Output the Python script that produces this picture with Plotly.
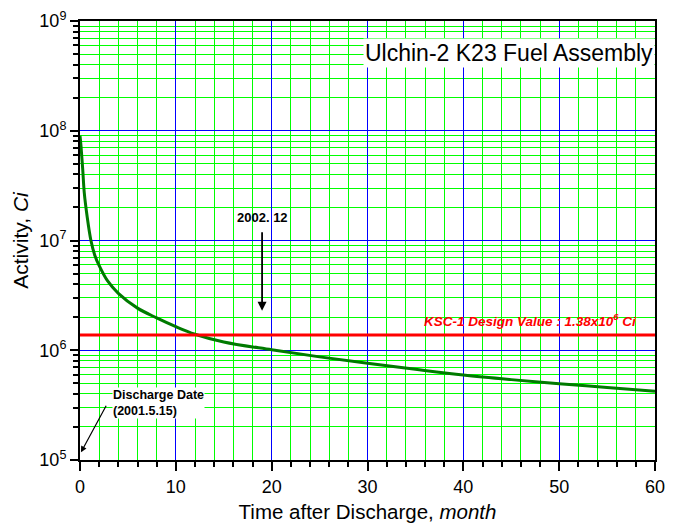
import plotly.graph_objects as go

months = [0, 0.1, 0.28, 0.45, 0.73, 1.14, 1.55, 2.0, 2.86, 4, 6, 8, 10, 12, 15, 20, 25, 30, 35, 40, 45, 50, 55, 60]
activity = [9.0e7, 7.3e7, 4.5e7, 2.7e7, 1.69e7, 1.0e7, 7.3e6, 5.9e6, 4.3e6, 3.3e6, 2.42e6, 1.97e6, 1.64e6, 1.40e6,
            1.19e6, 1.01e6, 8.7e5, 7.6e5, 6.7e5, 5.95e5, 5.4e5, 4.95e5, 4.58e5, 4.22e5]
design_value = 1.38e6
x_range = [0, 60]
y_decades = [5, 9]
decade_vals = [10 ** d for d in range(y_decades[0], y_decades[1] + 1)]
decade_text = ["10<sup>%d</sup>" % d for d in range(y_decades[0], y_decades[1] + 1)]
y_minor_vals = [m * 10 ** d for d in range(y_decades[0], y_decades[1]) for m in range(2, 10)]

fig = go.Figure()
fig.add_trace(go.Scatter(x=months, y=activity, mode="lines", line=dict(color="#007a00", width=3, shape="spline", smoothing=1.0),
                         showlegend=False, hoverinfo="skip"))
fig.add_trace(go.Scatter(x=x_range, y=[design_value, design_value], mode="lines",
                         line=dict(color="#ff0000", width=3), showlegend=False, hoverinfo="skip"))

font = "Liberation Sans, Arial, sans-serif"
fig.update_layout(
    width=674, height=529,
    margin=dict(l=80, r=9, t=18, b=66),
    paper_bgcolor="white", plot_bgcolor="white",
    font=dict(family=font, color="black"),
    xaxis=dict(range=x_range, dtick=10, showgrid=True, gridcolor="#0000ff", gridwidth=1,
               zeroline=False, showline=True, linecolor="black", linewidth=2, mirror=True,
               ticks="outside", ticklen=9, tickwidth=2, tickcolor="black",
               tickfont=dict(size=18, family=font),
               minor=dict(dtick=2, showgrid=True, gridcolor="#00ff00", gridwidth=1, ticks="outside", ticklen=5,
                          tickwidth=1.5, tickcolor="black"),
               title=dict(text="Time after Discharge, <i>month</i>", font=dict(size=20.5, family=font), standoff=9)),
    yaxis=dict(type="log", range=y_decades, tickmode="array", tickvals=decade_vals, ticktext=decade_text,
               showgrid=True, gridcolor="#0000ff", gridwidth=1,
               zeroline=False, showline=True, linecolor="black", linewidth=2, mirror=True,
               ticks="outside", ticklen=8, tickwidth=2, tickcolor="black",
               tickfont=dict(size=18, family=font),
               minor=dict(tickmode="array", tickvals=y_minor_vals, showgrid=True, gridcolor="#00ff00", gridwidth=1,
                          ticks="outside", ticklen=5, tickwidth=1.5, tickcolor="black"),
               title=dict(text="Activity, <i>Ci</i>", font=dict(size=21, family=font), standoff=5)),
)

fig.add_annotation(x=1.0, y=0.928, xref="paper", yref="paper", xanchor="right", yanchor="middle",
                   text="Ulchin-2 K23 Fuel Assembly", showarrow=False, bgcolor="white", borderpad=1,
                   font=dict(size=23, family=font, color="black"))
fig.add_annotation(x=19, y=7.12, text="<b>2002. 12</b>", showarrow=False, yanchor="bottom",
                   font=dict(size=13, family=font, color="black"))
fig.add_annotation(x=19, y=6.36, ax=0, ay=-80, text="", showarrow=True, arrowhead=2, arrowsize=1,
                   arrowwidth=1.8, arrowcolor="black")
fig.add_annotation(x=58.2, y=6.14, yshift=15, xanchor="right", showarrow=False,
                   text="<b><i>KSC-1 Design Value : 1.38x10<sup>6</sup> Ci</i></b>",
                   font=dict(size=13.5, family=font, color="#ff0000"))
fig.add_annotation(x=3.3, y=5.52, xanchor="left", yanchor="middle", align="left", showarrow=False,
                   text="<b>Discharge Date<br>(2001.5.15)</b>", bgcolor="white", borderpad=0,
                   font=dict(size=12.5, family=font, color="black"))
fig.add_annotation(x=0.1, y=5.07, ax=26, ay=-48, text="", showarrow=True, arrowhead=2, arrowsize=1,
                   arrowwidth=1.2, arrowcolor="black")

fig.write_html("out.html")
